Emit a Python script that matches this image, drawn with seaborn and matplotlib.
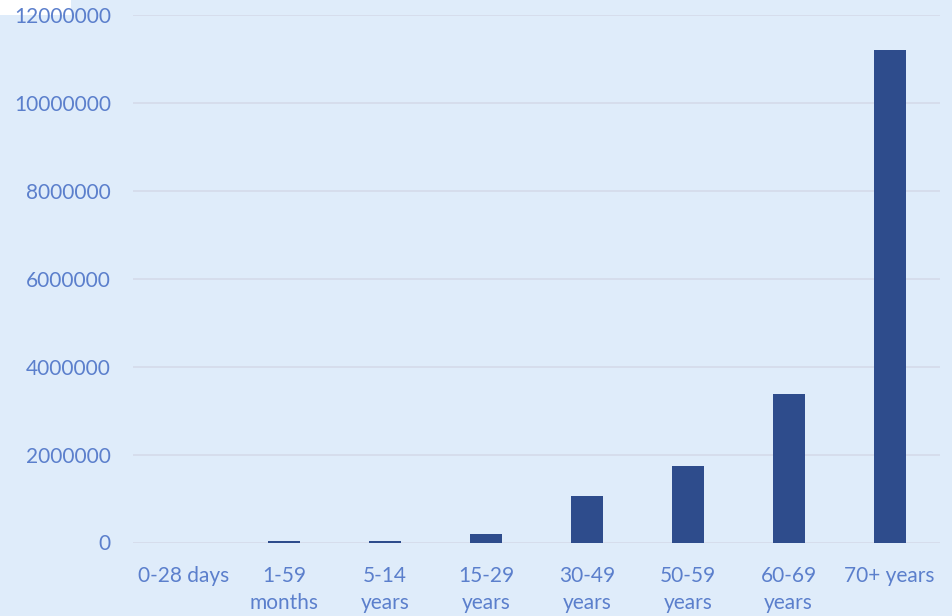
import pandas as pd
import matplotlib.pyplot as plt
import seaborn as sns
from matplotlib.patches import Rectangle

# Data
age_groups = ["0-28 days", "1-59\nmonths", "5-14\nyears", "15-29\nyears",
              "30-49\nyears", "50-59\nyears", "60-69\nyears", "70+ years"]
deaths = [0, 32000, 30000, 193000, 1065000, 1740000, 3378000, 11200000]
y_ticks = [0, 2000000, 4000000, 6000000, 8000000, 10000000, 12000000]

bg = "#DFECFA"
bar_color = "#2E4C8C"
text_color = "#5B7FCC"
grid_color = "#D6DDEC"

df = pd.DataFrame({"Age": age_groups, "Deaths": deaths})

sns.set_theme(style="white")
plt.rcParams['font.family'] = ['Lato', 'DejaVu Sans']

fig = plt.figure(figsize=(9.52, 6.16), dpi=100, facecolor=bg)

# small white patch at the top-left corner of the original image
fig.patches.append(Rectangle((0, 1 - 15 / 616), 71 / 952, 15 / 616,
                             transform=fig.transFigure, facecolor="white",
                             edgecolor="none", zorder=-5))

ax = fig.add_axes([133 / 952, 1 - 542.5 / 616, (940 - 133) / 952, (542.5 - 15) / 616])
ax.set_facecolor(bg)
ax.patch.set_alpha(0)

sns.barplot(
    x="Age",
    y="Deaths",
    data=df,
    hue="Age",
    palette=[bar_color] * len(age_groups),
    legend=False,
    width=0.317,
    linewidth=0,
    saturation=1,
    ax=ax,
)

ax.set_ylim(0, 12000000)
ax.set_yticks(y_ticks)
ax.set_yticklabels([str(v) for v in y_ticks])
ax.set_xlim(-0.5, len(age_groups) - 0.5)
ax.set_xlabel("")
ax.set_ylabel("")

ax.grid(axis="y", color=grid_color, linewidth=1.4)
ax.set_axisbelow(True)
for s in ax.spines.values():
    s.set_visible(False)

ax.tick_params(axis="y", length=0, pad=16, labelsize=15, labelcolor=text_color)
ax.tick_params(axis="x", length=0, pad=17, labelsize=15, labelcolor=text_color)
for lab in ax.get_xticklabels():
    lab.set_linespacing(1.45)
    lab.set_verticalalignment("top")

fig.savefig("out.png", dpi=100, facecolor=bg)
